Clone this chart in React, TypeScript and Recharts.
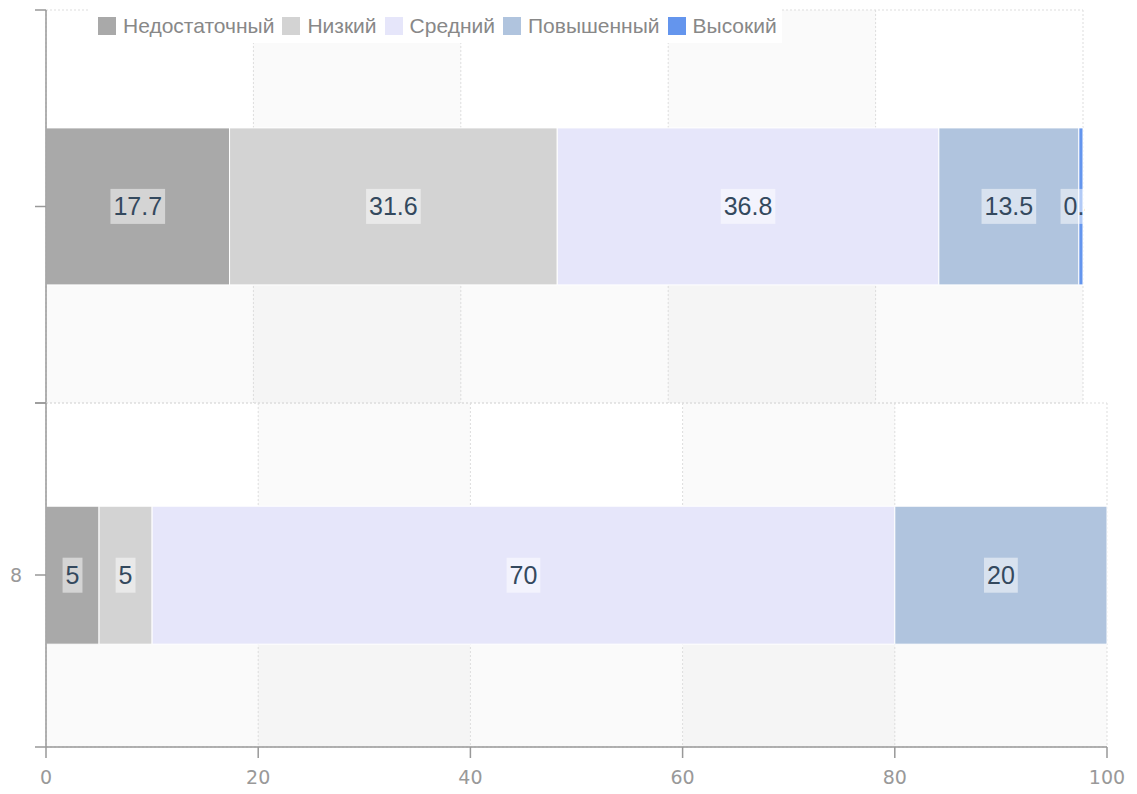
import { BarChart, Bar, XAxis, YAxis, CartesianGrid, Legend, LabelList } from 'recharts';

const categories = ['', '8'];
const seriesNames = ['Недостаточный', 'Низкий', 'Средний', 'Повышенный', 'Высокий'];
const insufficient = [17.7, 5];
const low = [31.6, 5];
const medium = [36.8, 70];
const elevated = [13.5, 20];
const high = [0.4, 0];
const xTicks = [0, 20, 40, 60, 80, 100];

const keys = ['insufficient', 'low', 'medium', 'elevated', 'high'];
const colors = ['#a9a9a9', '#d3d3d3', '#e6e6fa', '#b0c4de', '#6495ed'];

const rows = categories.map((cat, i) => ({
    cat,
    insufficient: insufficient[i],
    low: low[i],
    medium: medium[i],
    elevated: elevated[i],
    high: high[i],
}));

const AXIS_FONT = '"DejaVu Sans", sans-serif';
const TEXT_FONT = '"Liberation Sans", Arial, sans-serif';
const LABEL_SIZE = 25;
const AXIS_SIZE = 19;
const Y_AXIS_W = 46;
const X_AXIS_H = 47;

const textWidth = (s: string) =>
    [...s].reduce((w, c) => w + (c === '.' ? 0.278 : 0.556) * LABEL_SIZE, 0);

function ValueLabel(props: any) {
    const { x, y, width, height, value } = props;
    if (!value) return null;
    const cx = Number(x) + Number(width) / 2;
    const cy = Number(y) + Number(height) / 2;
    const text = String(value);
    const w = textWidth(text) + 6;
    return (
        <g>
            <rect x={cx - w / 2} y={cy - 17.5} width={w} height={35} fill="rgba(255,255,255,0.5)" />
            <text
                x={cx}
                y={cy}
                textAnchor="middle"
                dominantBaseline="central"
                fontSize={LABEL_SIZE}
                fill="#34495e"
                fontFamily={TEXT_FONT}
            >
                {text}
            </text>
        </g>
    );
}

// category tick: label + tick marks at the band centre and at both band edges
function CategoryTick(props: any) {
    const { y, payload, half } = props;
    const marks = [y - half, y, y + half];
    return (
        <g>
            {marks.map((m) => (
                <line key={m} x1={Y_AXIS_W - 11} x2={Y_AXIS_W} y1={m} y2={m} stroke="#999" strokeWidth={1.5} />
            ))}
            <text
                x={Y_AXIS_W - 24}
                y={y}
                textAnchor="end"
                dominantBaseline="central"
                fontSize={AXIS_SIZE}
                fill="#999"
                fontFamily={AXIS_FONT}
            >
                {payload.value}
            </text>
        </g>
    );
}

function LegendContent() {
    return (
        <div
            style={{
                display: 'flex',
                alignItems: 'center',
                gap: 8,
                background: '#fff',
                height: 35,
                padding: '0 5px 0 10px',
                fontFamily: TEXT_FONT,
                whiteSpace: 'nowrap',
            }}
        >
            {seriesNames.map((name, i) => (
                <div key={name} style={{ display: 'flex', alignItems: 'center' }}>
                    <span style={{ width: 18, height: 18, background: colors[i], marginRight: 7, display: 'inline-block' }} />
                    <span style={{ fontSize: 21, color: '#888' }}>{name}</span>
                </div>
            ))}
        </div>
    );
}

function StackedRow({ row, width, height, top, margin, showX, showLegend }: any) {
    const plotH = height - margin.top - margin.bottom - (showX ? X_AXIS_H : 0);
    return (
        <div style={{ position: 'absolute', left: 0, top }}>
            <BarChart width={width} height={height} data={[row]} layout="vertical" margin={margin} barCategoryGap="30%">
                <CartesianGrid
                    stroke="#ddd"
                    strokeDasharray="2 2"
                    horizontalCoordinatesGenerator={({ offset }: any) => [
                        offset.top,
                        offset.top + offset.height / 2,
                        offset.top + offset.height,
                    ]}
                    horizontalFill={['rgba(0,0,0,0)', 'rgba(0,0,0,0.02)']}
                    verticalFill={['rgba(0,0,0,0)', 'rgba(0,0,0,0.02)']}
                />
                <XAxis
                    type="number"
                    domain={[0, 100]}
                    ticks={xTicks}
                    interval={0}
                    hide={!showX}
                    height={X_AXIS_H}
                    stroke="#999"
                    strokeWidth={1.5}
                    tickSize={11}
                    tickMargin={13}
                    tick={{ fill: '#999', fontSize: AXIS_SIZE, fontFamily: AXIS_FONT }}
                />
                <YAxis
                    type="category"
                    dataKey="cat"
                    width={Y_AXIS_W}
                    stroke="#999"
                    strokeWidth={1.5}
                    tickLine={false}
                    interval={0}
                    tick={(p: any) => <CategoryTick {...p} half={plotH / 2} />}
                />
                {showLegend && (
                    <Legend
                        layout="horizontal"
                        verticalAlign="middle"
                        align="center"
                        content={<LegendContent />}
                        wrapperStyle={{ top: 8, left: 88, width: 'auto', height: 35 }}
                    />
                )}
                {keys.map((k, i) => (
                    <Bar
                        key={k}
                        dataKey={k}
                        name={seriesNames[i]}
                        stackId="a"
                        fill={colors[i]}
                        stroke="#fff"
                        strokeWidth={1}
                        isAnimationActive={false}
                    >
                        <LabelList dataKey={k} content={<ValueLabel />} />
                    </Bar>
                ))}
            </BarChart>
        </div>
    );
}

export default function App() {
    return (
        <div style={{ position: 'absolute', left: 0, top: 0, width: 1137, height: 794, background: '#fff' }}>
            <StackedRow
                row={rows[0]}
                width={1085}
                height={404}
                top={0}
                margin={{ top: 10, right: 2, bottom: 1, left: 0 }}
                showX={false}
                showLegend
            />
            <StackedRow
                row={rows[1]}
                width={1137}
                height={401}
                top={393}
                margin={{ top: 10, right: 30, bottom: 0, left: 0 }}
                showX
                showLegend={false}
            />
        </div>
    );
}
